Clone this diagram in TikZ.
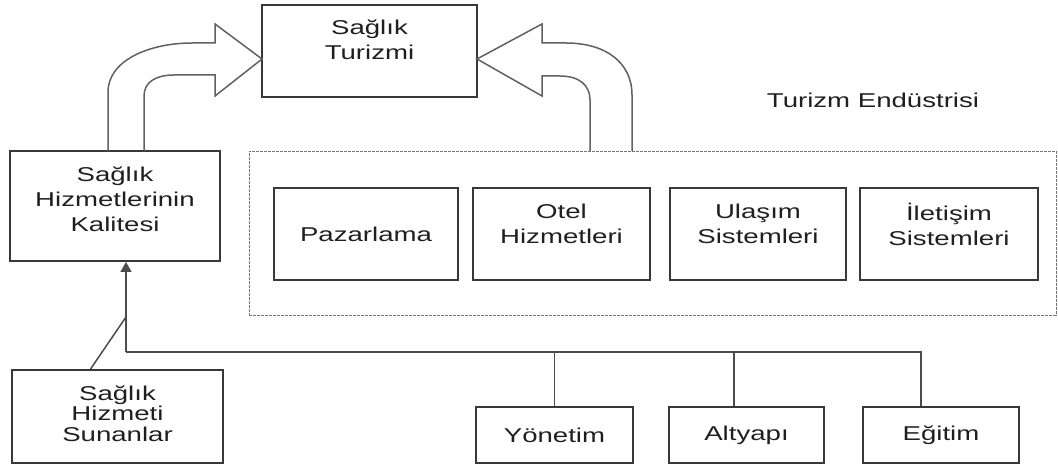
\documentclass[tikz,border=0pt]{standalone}
\usepackage{fontspec}
\setmainfont{Liberation Sans}[FakeStretch=1.38]
\usepackage{tikz}
\usetikzlibrary{positioning,arrows.meta}

\begin{document}
\begin{tikzpicture}[x=1pt, y=-1pt,
    kutu/.style={draw=black!78, line width=1.9pt, rectangle, align=center, inner sep=0pt,
                 text=black!88, font=\fontsize{20}{25}\selectfont},
    alt/.style={kutu, minimum width=156pt, minimum height=56pt},
    orta/.style={kutu, minimum height=92pt},
    hat/.style={draw=black!70, line width=1.5pt},
    ok/.style={draw=black!62, line width=1.5pt, line join=miter}]
        \useasboundingbox (0,0) rectangle (1058,468);

        % Top box
        \node[kutu, minimum width=215pt, minimum height=92pt, text depth=22pt] (turizm) at (369.5,51) {Sağlık\\Turizmi};

        % Left boxes
        \node[kutu, minimum width=210pt, minimum height=110pt, text depth=14pt] (kalite) at (115,206) {Sağlık\\Hizmetlerinin\\Kalitesi};
        \node[kutu, minimum width=211pt, minimum height=93pt, text depth=6pt, font=\fontsize{20}{20.5}\selectfont] (sunan) at (117.5,416.5) {Sağlık\\Hizmeti\\Sunanlar};

        % Tourism industry group
        \node[draw=black!55, line width=0.8pt, dash pattern=on 3pt off 1pt, minimum width=807pt, minimum height=164pt] (endustri) at (652.5,233) {};
        \node[text=black!88, font=\fontsize{20}{25}\selectfont] (baslik) at (873,100) {Turizm Endüstrisi};
        \node[orta, minimum width=184pt] (pazar) at (366,234) {Pazarlama};
        \node[orta, minimum width=177pt, text depth=20pt] (otel) at (561.5,234) {Otel\\Hizmetleri};
        \node[orta, minimum width=176pt, text depth=20pt] (ulasim) at (758,234) {Ulaşım\\Sistemleri};
        \node[orta, minimum width=178pt, text depth=20pt] (iletisim) at (949,234) {İletişim\\Sistemleri};

        % Bottom row
        \node[alt, minimum width=157pt] (yonetim) at (554.5,435) {Yönetim};
        \node[alt, minimum width=155pt] (altyapi) at (746.5,435) {Altyapı};
        \node[alt] (egitim) at (941,435) {Eğitim};

        % Connectors
        \coordinate (bus) at (126,352);
        \coordinate (kavsak) at (126,317);
        \coordinate (a1) at ([xshift=-12.5pt]altyapi.north);
        \coordinate (e1) at ([xshift=-20pt]egitim.north);
        \draw[hat, -{Triangle[width=11pt,length=10pt]}] (bus) -- (bus |- kalite.south);
        \draw[hat] (bus) -| (e1);
        \draw[hat] (yonetim.north) -- (yonetim.north |- bus);
        \draw[hat] (a1) -- (a1 |- bus);
        \draw[hat] ([xshift=-27pt]sunan.north) -- (kavsak);

        % Big arrows
        \draw[ok] (108,151) -- (108,92) .. controls (108,60) and (150,43) .. (192,43) -- (215,43)
            -- (215,24) -- (262,59) -- (215,96) -- (215,75) -- (174,75)
            .. controls (156,75) and (144,82) .. (144,96) -- (144,151);
        \draw[ok] (632,151) -- (632,95) .. controls (632,62) and (605,43) .. (566,43) -- (542,43)
            -- (542,24) -- (477,59) -- (542,96) -- (542,76) -- (560,76)
            .. controls (579,76) and (590,85) .. (590,100) -- (590,151);
    \end{tikzpicture}
\end{document}
